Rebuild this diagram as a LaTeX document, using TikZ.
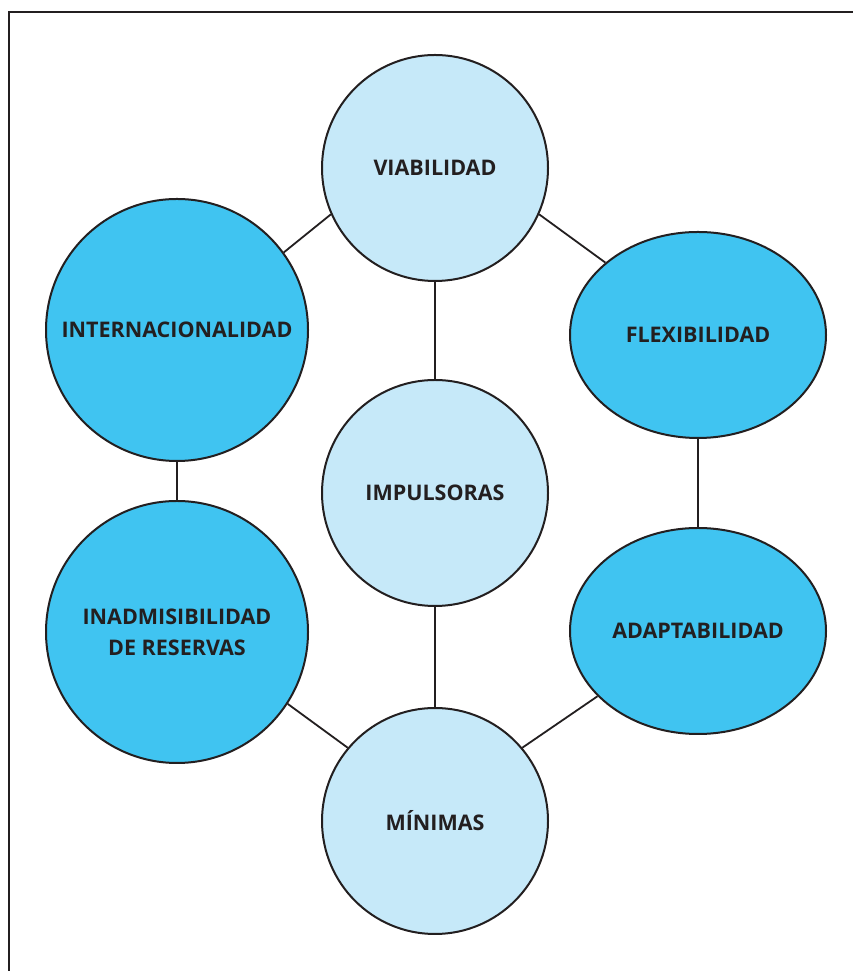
\documentclass[tikz,border=0pt]{standalone}
\usepackage{fontspec}
\setmainfont{Open Sans}
\usetikzlibrary{shapes.geometric}
\definecolor{lightb}{HTML}{C6E9F9}
\definecolor{darkb}{HTML}{40C4F1}
\definecolor{txt}{HTML}{231F20}
\tikzset{
  lightc/.style={circle, draw=txt, line width=2pt, fill=lightb, minimum size=226pt, inner sep=0pt, align=center, font=\bfseries\fontsize{21.5}{26}\selectfont, text=txt},
  bigc/.style={circle, draw=txt, line width=2pt, fill=darkb, minimum size=262pt, inner sep=0pt, align=center, font=\bfseries\fontsize{21.5}{31}\selectfont, text=txt},
  ellc/.style={ellipse, draw=txt, line width=2pt, fill=darkb, minimum width=256pt, minimum height=206pt, inner sep=0pt, align=center, font=\bfseries\fontsize{21.5}{26}\selectfont, text=txt},
  link/.style={draw=txt, line width=1.8pt}
}
\begin{document}
\begin{tikzpicture}[x=1pt,y=1pt]
\useasboundingbox (0,0) rectangle (853,971);
\clip (0,0) rectangle (853,971);
\fill[white] (0,0) rectangle (853,971);
\draw[txt, line width=2.4pt] (9,959) rectangle (880,-20);
\node[lightc] (v) at (435,803) {VIABILIDAD};
\node[bigc] (i) at (177,641) {INTERNACIONALIDAD};
\node[ellc] (f) at (698,636) {FLEXIBILIDAD};
\node[lightc] (p) at (435,478) {IMPULSORAS};
\node[bigc] (r) at (177,339) {INADMISIBILIDAD\\DE RESERVAS};
\node[ellc] (a) at (698,340) {ADAPTABILIDAD};
\node[lightc] (m) at (435,150) {MÍNIMAS};
\draw[link] (v.204) -- (i.36);
\draw[link] (v.336) -- (f.142);
\draw[link] (v.south) -- (p.north);
\draw[link] (i.south) -- (r.north);
\draw[link] (f.south) -- (a.north);
\draw[link] (p.south) -- (m.north);
\draw[link] (r.327) -- (m.140);
\draw[link] (a.213) -- (m.40);
\end{tikzpicture}
\end{document}
